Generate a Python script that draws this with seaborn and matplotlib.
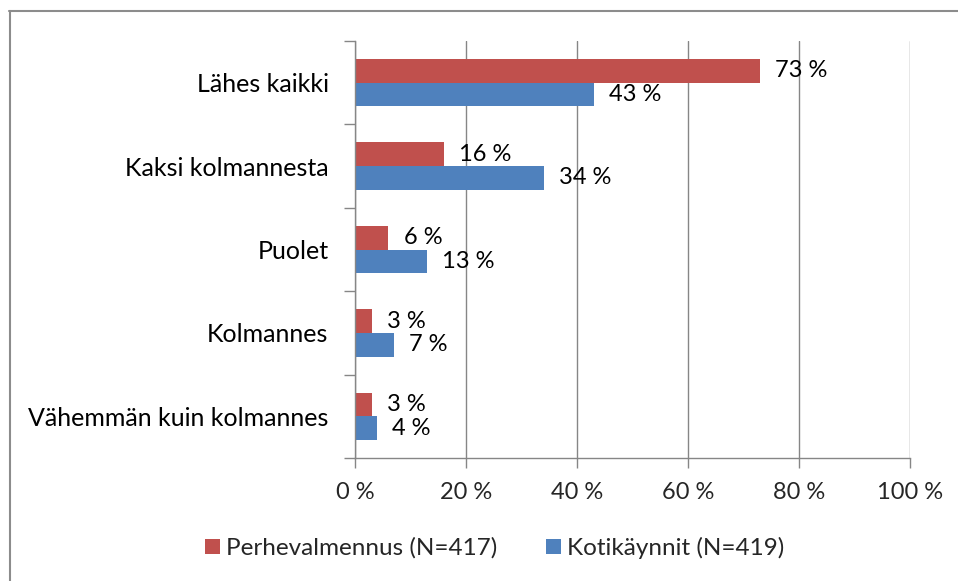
import matplotlib
matplotlib.use("Agg")
import matplotlib.pyplot as plt
import seaborn as sns
import pandas as pd
from matplotlib.lines import Line2D
from matplotlib.ticker import FixedLocator

categories = ["Lähes kaikki", "Kaksi kolmannesta", "Puolet", "Kolmannes",
              "Vähemmän kuin kolmannes"]
series_names = ["Perhevalmennus (N=417)", "Kotikäynnit (N=419)"]
perhevalmennus = [73, 16, 6, 3, 3]
kotikaynnit = [43, 34, 13, 7, 4]
x_ticks = [0, 20, 40, 60, 80, 100]
colors = ["#C0504D", "#4F81BD"]

sns.set_theme(style="white")
plt.rcParams["font.family"] = ["Lato", "DejaVu Sans"]
FS = 17

df = pd.DataFrame({
    "cat": categories * 2,
    "series": [series_names[0]] * len(categories) + [series_names[1]] * len(categories),
    "value": perhevalmennus + kotikaynnit,
})

fig = plt.figure(figsize=(9.58, 5.81), dpi=100)
ax = fig.add_axes([355/958, 1 - 458/581, (910-355)/958, (458-41)/581])

sns.barplot(data=df, y="cat", x="value", hue="series", orient="h",
            palette=colors, saturation=1, width=0.57, linewidth=0, ax=ax, legend=True,
            order=categories, hue_order=series_names)

ax.set_xlim(0, 100)
ax.set_ylim(len(categories) - 0.5, -0.5)
ax.set_xticks(x_ticks)
ax.set_xticklabels([f"{t} %" for t in x_ticks], fontsize=FS)
ax.set_xlabel("")
ax.set_ylabel("")
ax.tick_params(axis="y", which="major", length=0, labelsize=18, pad=19, colors="black")
ax.yaxis.set_minor_locator(FixedLocator([i - 0.5 for i in range(len(categories) + 1)]))
ax.tick_params(axis="y", which="minor", length=8, width=1, color="#868686", direction="out", left=True)
ax.tick_params(axis="x", which="major", length=7, width=1, color="#868686", direction="out",
               bottom=True, pad=10, labelsize=FS)
ax.grid(axis="x", color="#868686", linewidth=1)
ax.set_axisbelow(True)
for s in ["top", "right"]:
    ax.spines[s].set_visible(False)
for s in ["left", "bottom"]:
    ax.spines[s].set_color("#868686")
    ax.spines[s].set_linewidth(1)

for container in ax.containers:
    ax.bar_label(container, labels=[f"{v:g} %" for v in container.datavalues],
                 padding=11, fontsize=FS, color="black")

handles, labels = ax.get_legend_handles_labels()
ax.legend_.remove()
fig.legend(handles, labels, loc="center", bbox_to_anchor=(494.5/958, 1 - 548/581), ncol=2,
           frameon=False, fontsize=17.5, handlelength=0.62, handleheight=0.62,
           handletextpad=0.25, columnspacing=2.0)

fig.add_artist(Line2D([9/958, 1], [1 - 11/581, 1 - 11/581], transform=fig.transFigure,
                      color="#8c8c8c", linewidth=1.5))
fig.add_artist(Line2D([10/958, 10/958], [1 - 11/581, 0], transform=fig.transFigure,
                      color="#8c8c8c", linewidth=1.5))

fig.savefig("out.png", dpi=100, facecolor="white")
